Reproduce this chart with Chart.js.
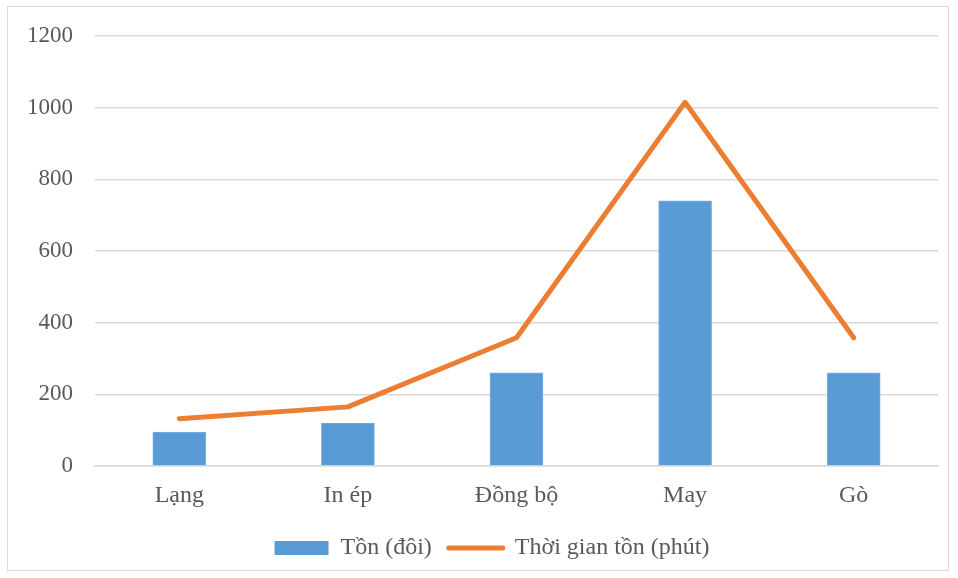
<!DOCTYPE html>
<html>
<head>
<meta charset="utf-8">
<script src="https://cdn.jsdelivr.net/npm/chart.js@4/dist/chart.umd.min.js"></script>
<style>
    html, body { margin: 0; padding: 0; background: #fff; }
    #frame {
        position: absolute; left: 7px; top: 6px; width: 942px; height: 565px;
        border: 1px solid #d9d9d9; box-sizing: border-box;
    }
    #wrap { position: absolute; left: 0; top: 0; width: 958px; height: 578px; }
</style>
</head>
<body>
<div id="frame"></div>
<div id="wrap"><canvas id="chart"></canvas></div>
<script>
const categories = ['Lạng', 'In ép', 'Đồng bộ', 'May', 'Gò']
const tonDoi = [95, 120, 260, 740, 260]
const thoiGianTon = [132, 165, 358, 1015, 358]
const yTicks = [0, 200, 400, 600, 800, 1000, 1200]

const textColor = '#595959'
const gridColor = '#d9d9d9'
const fontFamily = '"Liberation Serif", "Times New Roman", serif'

// nudge the legend a bit right, the original one is not centred on the canvas
const legendShift = {
    id: 'legendShift',
    afterLayout(chart) {
        const lg = chart.legend
        if (!lg) return
        lg.left += 23
        lg.right += 23
    }
}

new Chart(document.getElementById('chart'), {
    type: 'bar',
    data: {
        labels: categories,
        datasets: [
            {
                type: 'line',
                label: 'Thời gian tồn (phút)',
                data: thoiGianTon,
                borderColor: '#ed7d31',
                backgroundColor: '#ed7d31',
                borderWidth: 5,
                borderCapStyle: 'round',
                borderJoinStyle: 'round',
                pointRadius: 0,
                tension: 0,
                order: 1
            },
            {
                label: 'Tồn (đôi)',
                data: tonDoi,
                backgroundColor: '#5b9bd5',
                borderColor: '#7aaee0',
                borderWidth: 1,
                barThickness: 53,
                order: 2
            }
        ]
    },
    plugins: [legendShift],
    options: {
        responsive: true,
        maintainAspectRatio: false,
        animation: false,
        layout: { padding: { left: 0, right: 20, top: 36, bottom: 8 } },
        plugins: {
            tooltip: { enabled: false },
            legend: {
                position: 'bottom',
                reverse: true,
                labels: {
                    usePointStyle: true,
                    pointStyleWidth: 54,
                    boxHeight: 14,
                    padding: 17,
                    color: textColor,
                    font: { family: fontFamily, size: 24 },
                    generateLabels: (chart) => {
                        return chart.data.datasets.map((ds, i) => ({
                            text: ds.label,
                            fillStyle: ds.backgroundColor,
                            strokeStyle: ds.type === 'line' ? ds.borderColor : ds.backgroundColor,
                            lineWidth: ds.type === 'line' ? 5 : 0,
                            lineCap: 'round',
                            pointStyle: ds.type === 'line' ? 'line' : 'rect',
                            fontColor: textColor,
                            datasetIndex: i,
                            hidden: false
                        }))
                    }
                }
            }
        },
        scales: {
            x: {
                grid: { display: false, drawTicks: false },
                border: { color: gridColor, width: 1.5 },
                ticks: {
                    color: textColor,
                    padding: 15,
                    font: { family: fontFamily, size: 24 }
                },
                afterFit: (s) => { s.height = 53 }
            },
            y: {
                min: 0,
                max: 1200,
                afterBuildTicks: (s) => { s.ticks = yTicks.map(v => ({ value: v })) },
                grid: { color: gridColor, lineWidth: 1.5, drawTicks: false },
                border: { display: false },
                ticks: {
                    color: textColor,
                    padding: 22,
                    font: { family: fontFamily, size: 23 },
                    callback: (v) => String(v)
                },
                afterFit: (s) => { s.width = 95 }
            }
        }
    }
})
</script>
</body>
</html>
